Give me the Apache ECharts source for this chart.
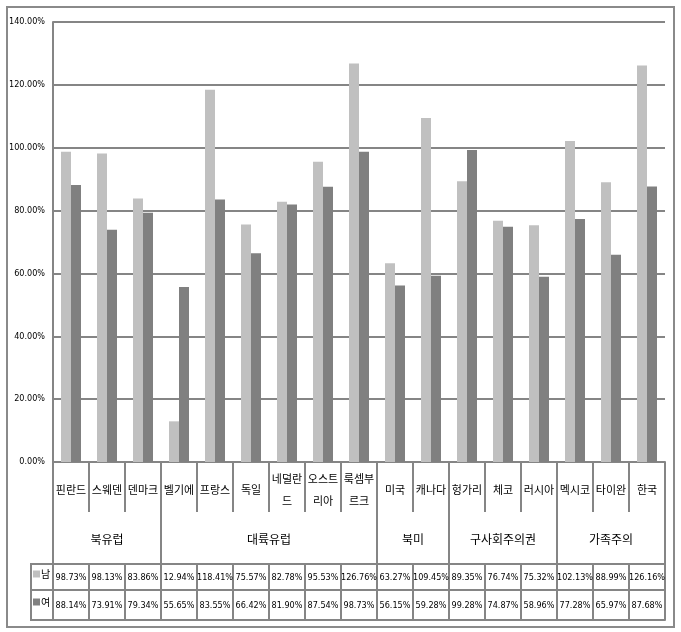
<!DOCTYPE html>
<html><head><meta charset="utf-8">
<script src="https://cdn.jsdelivr.net/npm/echarts@6/dist/echarts.min.js"></script>
<style>html,body{margin:0;padding:0;background:#fff}#c{width:681px;height:632px}</style>
</head><body><div id="c"></div>
<script>
const categories = ['핀란드','스웨덴','덴마크','벨기에','프랑스','독일','네덜란\n드','오스트\n리아','룩셈부\n르크','미국','캐나다','헝가리','체코','러시아','멕시코','타이완','한국'];
const groupNames = ['북유럽','대륙유럽','북미','구사회주의권','가족주의'];
const groupSizes = [3, 6, 2, 3, 3];
const seriesNames = ['남', '여'];
const male = [98.73,98.13,83.86,12.94,118.41,75.57,82.78,95.53,126.76,63.27,109.45,89.35,76.74,75.32,102.13,88.99,126.16];
const female = [88.14,73.91,79.34,55.65,83.55,66.42,81.90,87.54,98.73,56.15,59.28,99.28,74.87,58.96,77.28,65.97,87.68];
const yMin = 0, yMax = 140, yStep = 20;

const GRAY = '#858585';
const NUMFONT = '"DejaVu Sans Condensed","Liberation Sans",sans-serif';
const KRFONT = '"Noto Sans CJK KR","Noto Sans",sans-serif';

// group boundaries & centers derived from group sizes
const bounds = [0]; const centers = [];
groupSizes.forEach(s => { const a = bounds[bounds.length-1]; centers.push(a + s/2); bounds.push(a + s); });
const fmt = v => v.toFixed(2) + '%';

const chart = echarts.init(document.getElementById('c'), null, {renderer:'canvas'});
chart.setOption({
  animation: false,
  backgroundColor: '#fff',
  color: ['#c0c0c0', '#808080'],
  grid: { left: 53, right: 16, top: 22, bottom: 170, containLabel: false },
  legend: {
    orient: 'vertical', left: 33, top: 567, padding: 0,
    itemWidth: 7, itemHeight: 7, itemGap: 14, icon: 'rect',
    data: seriesNames,
    textStyle: { fontFamily: KRFONT, fontSize: 10, color: '#000', lineHeight: 14, padding: [0,0,0,-4] }
  },
  yAxis: {
    type: 'value', min: yMin, max: yMax, interval: yStep,
    axisLine: { show: true, lineStyle: { color: GRAY, width: 2 } },
    axisTick: { show: false },
    splitLine: { show: true, lineStyle: { color: GRAY, width: 2 } },
    axisLabel: { formatter: v => fmt(v), fontFamily: NUMFONT, fontSize: 9, color: '#000', margin: 8 }
  },
  xAxis: [
    { type: 'category', data: categories, position: 'bottom', offset: 0,
      axisLine: { show: true, lineStyle: { color: GRAY, width: 2 } },
      axisTick: { show: true, interval: 0, length: 50, lineStyle: { color: GRAY, width: 2 } },
      axisLabel: { interval: 0, hideOverlap: false, margin: 28, verticalAlign: 'middle', lineHeight: 22,
        fontFamily: KRFONT, fontSize: 11, color: '#000' } },
    { type: 'value', min: 0, max: categories.length, position: 'bottom', offset: 0,
      axisLine: { show: false }, splitLine: { show: false },
      axisTick: { show: true, customValues: bounds, length: 102, lineStyle: { color: GRAY, width: 2 } },
      axisLabel: { customValues: centers, margin: 77, verticalAlign: 'middle', fontFamily: KRFONT, fontSize: 12, color: '#000',
        formatter: v => groupNames[centers.indexOf(v)] } },
    { type: 'category', data: male.map(fmt), position: 'bottom', offset: 102,
      axisLine: { show: true, lineStyle: { color: GRAY, width: 2 } },
      axisTick: { show: true, interval: 0, length: 26, lineStyle: { color: GRAY, width: 2 } },
      axisLabel: { interval: 0, hideOverlap: false, margin: 14, verticalAlign: 'middle', fontFamily: NUMFONT, fontSize: 9, color: '#000' } },
    { type: 'category', data: female.map(fmt), position: 'bottom', offset: 128,
      axisLine: { show: true, lineStyle: { color: GRAY, width: 2 } },
      axisTick: { show: true, interval: 0, length: 30, lineStyle: { color: GRAY, width: 2 } },
      axisLabel: { interval: 0, hideOverlap: false, margin: 16, verticalAlign: 'middle', fontFamily: NUMFONT, fontSize: 9, color: '#000' } },
    { type: 'category', data: categories, position: 'bottom', offset: 158,
      axisLine: { show: true, lineStyle: { color: GRAY, width: 2 } },
      axisTick: { show: false }, axisLabel: { show: false } }
  ],
  series: [
    { name: seriesNames[0], type: 'bar', data: male, xAxisIndex: 0, barWidth: 10, barGap: '0%' },
    { name: seriesNames[1], type: 'bar', data: female, xAxisIndex: 0, barWidth: 10, barGap: '0%' }
  ],
  graphic: [
    { type: 'rect', shape: { x: 7, y: 7, width: 667, height: 620 }, style: { fill: 'none', stroke: '#8a8a8a', lineWidth: 2 }, silent: true, z: -1 },
    { type: 'rect', shape: { x: 31, y: 564, width: 22, height: 56 }, style: { fill: 'none', stroke: GRAY, lineWidth: 2 }, silent: true },
    { type: 'line', shape: { x1: 31, y1: 590, x2: 53, y2: 590 }, style: { stroke: GRAY, lineWidth: 2 }, silent: true }
  ]
});
</script></body></html>
